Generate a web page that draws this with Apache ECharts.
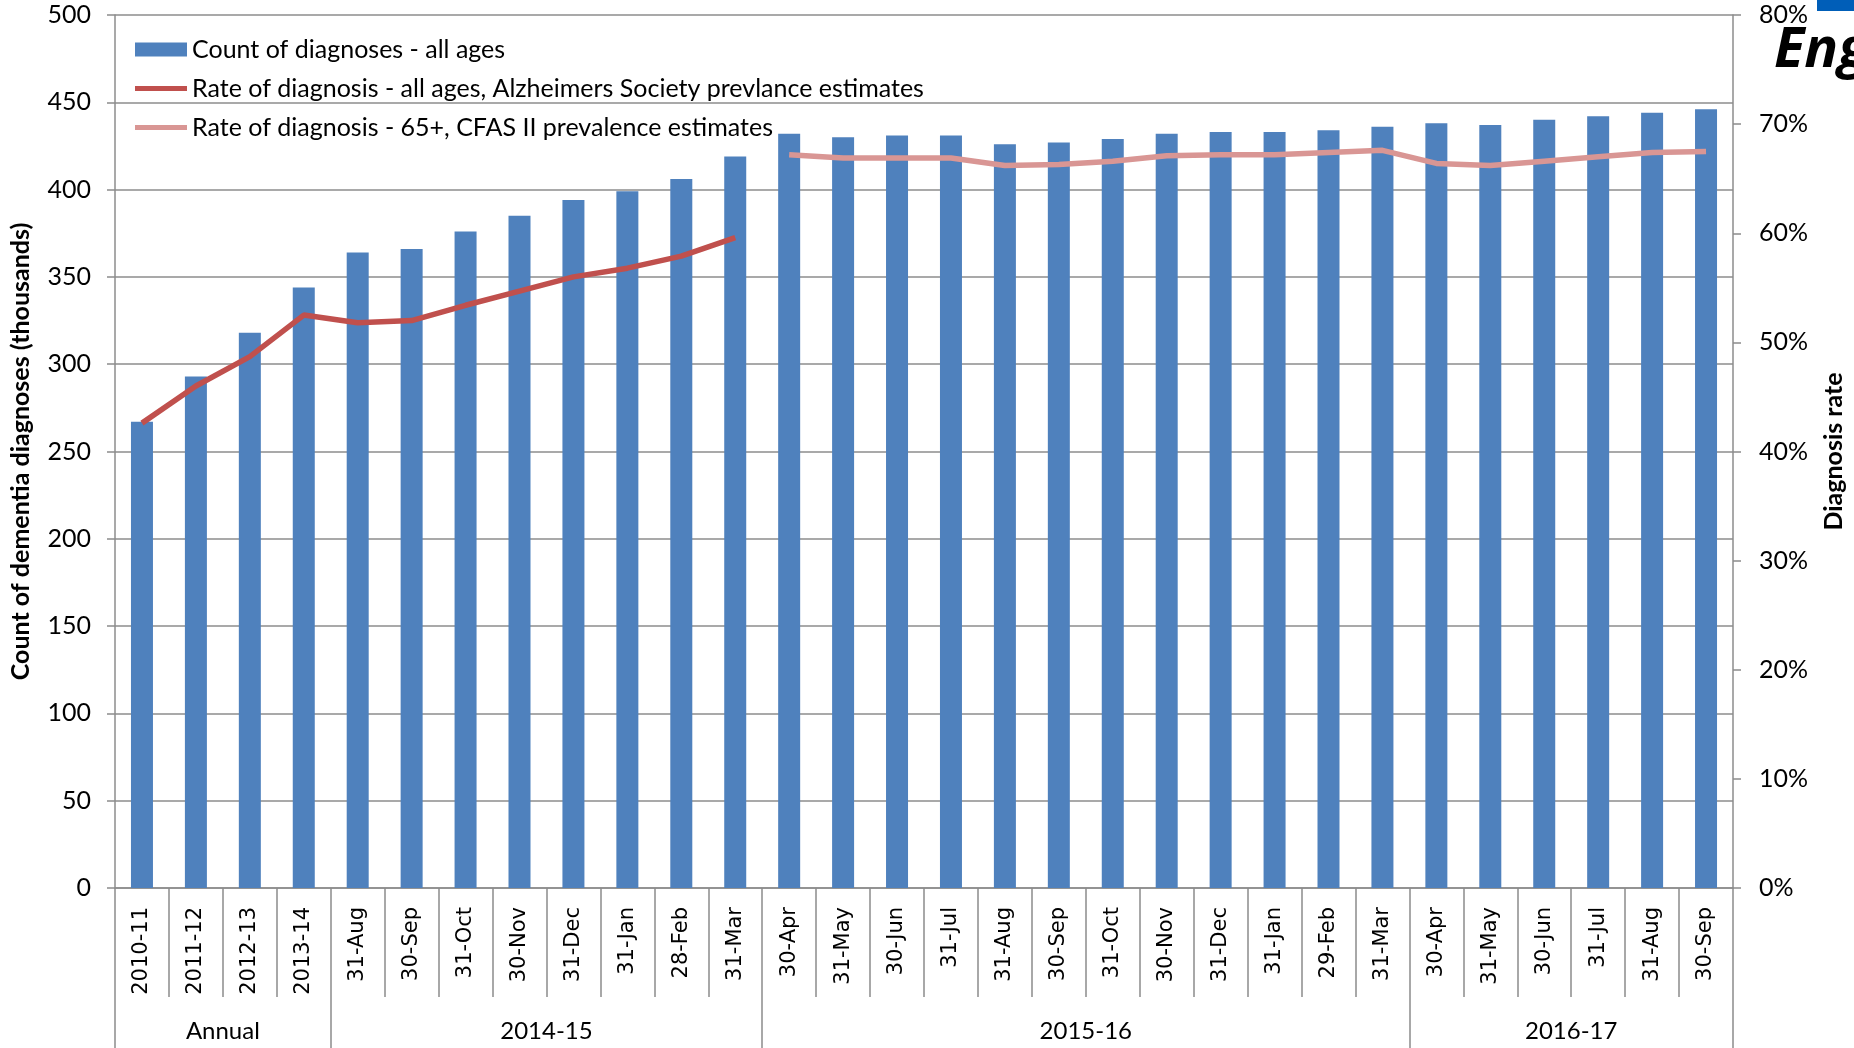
<!DOCTYPE html>
<html><head><meta charset="utf-8">
<script src="https://cdn.jsdelivr.net/npm/echarts@6/dist/echarts.min.js"></script>
<style>html,body{margin:0;padding:0;background:#fff}#c{width:1854px;height:1048px}</style>
</head><body><div id="c"></div>
<script>
const categories = ['2010-11','2011-12','2012-13','2013-14',
  '31-Aug','30-Sep','31-Oct','30-Nov','31-Dec','31-Jan','28-Feb','31-Mar',
  '30-Apr','31-May','30-Jun','31-Jul','31-Aug','30-Sep','31-Oct','30-Nov','31-Dec','31-Jan','29-Feb','31-Mar',
  '30-Apr','31-May','30-Jun','31-Jul','31-Aug','30-Sep'];
const groupNames = ['Annual','2014-15','2015-16','2016-17'];
const groupSizes = [4, 8, 12, 6];
const countDiagnoses = [267,293,318,344,364,366,376,385,394,399,406,419,
  432,430,431,431,426,427,429,432,433,433,434,436,438,437,440,442,444,446];
const rateAlzSoc = [0.426,0.460,0.487,0.525,0.518,0.520,0.534,0.547,0.560,0.568,0.579,0.596,
  null,null,null,null,null,null,null,null,null,null,null,null,null,null,null,null,null,null];
const rateCfas = [null,null,null,null,null,null,null,null,null,null,null,null,
  0.672,0.669,0.669,0.669,0.662,0.663,0.666,0.671,0.672,0.672,0.674,0.676,
  0.664,0.662,0.666,0.670,0.674,0.675];
const leftTicks = {min:0, max:500, interval:50};
const rightTicks = {min:0, max:0.8, interval:0.1};
const seriesNames = ['Count of diagnoses - all ages',
  'Rate of diagnosis - all ages, Alzheimers Society prevlance estimates',
  'Rate of diagnosis - 65+, CFAS II prevalence estimates'];

// group boundaries and centres derived from group sizes
const bounds = [0]; const centres = [];
groupSizes.forEach((n,i)=>{ centres.push(bounds[i] + n/2); bounds.push(bounds[i] + n); });

const gray = '#8c8c8c';
const lineIcon = 'path://M0,0 L52,0 L52,5 L0,5 Z';
const chart = echarts.init(document.getElementById('c'));
chart.setOption({
  animation:false,
  backgroundColor:'#fff',
  textStyle:{fontFamily:'Lato'},
  grid:{left:115, right:118, top:15, bottom:160, containLabel:false},
  legend:{
    orient:'vertical', left:130, top:32, itemWidth:52, itemHeight:14, itemGap:14,
    symbolKeepAspect:true,
    textStyle:{fontFamily:'Lato', fontSize:25, color:'#000'},
    data:[
      {name:seriesNames[0], icon:'rect'},
      {name:seriesNames[1], icon:lineIcon},
      {name:seriesNames[2], icon:lineIcon}
    ]
  },
  xAxis:[{
    type:'category', data:categories, boundaryGap:true,
    axisLine:{lineStyle:{color:gray, width:1.5}},
    axisTick:{show:true, interval:0, length:109, lineStyle:{color:gray, width:1.5}},
    axisLabel:{interval:0, rotate:90, margin:19, fontFamily:'DejaVu Sans', fontSize:21, color:'#000'},
    splitLine:{show:false}
  },{
    type:'value', min:0, max:categories.length, position:'bottom', gridIndex:0,
    axisLine:{show:false},
    axisTick:{show:true, customValues:bounds, length:160, lineStyle:{color:gray, width:1.5}},
    axisLabel:{customValues:centres, margin:131, fontFamily:'Lato', fontSize:24, color:'#000',
      formatter:(v)=>{ const i = centres.indexOf(v); return i>=0 ? groupNames[i] : ''; }},
    splitLine:{show:false}
  }],
  yAxis:[{
    type:'value', min:leftTicks.min, max:leftTicks.max, interval:leftTicks.interval,
    name:'Count of dementia diagnoses (thousands)', nameLocation:'middle', nameGap:82,
    nameTextStyle:{fontFamily:'Lato', fontWeight:'bold', fontSize:25, color:'#000'},
    axisLine:{show:true, lineStyle:{color:gray, width:1.5}},
    axisTick:{show:true, length:8, lineStyle:{color:gray, width:1.5}},
    axisLabel:{fontFamily:'Lato', fontSize:25, color:'#000', margin:24},
    splitLine:{show:true, lineStyle:{color:gray, width:1.5}}
  },{
    type:'value', min:rightTicks.min, max:rightTicks.max, interval:rightTicks.interval, position:'right',
    name:'Diagnosis rate', nameLocation:'middle', nameGap:88,
    nameTextStyle:{fontFamily:'Lato', fontWeight:'bold', fontSize:25, color:'#000'},
    axisLine:{show:true, lineStyle:{color:gray, width:1.5}},
    axisTick:{show:true, length:8, lineStyle:{color:gray, width:1.5}},
    axisLabel:{fontFamily:'Lato', fontSize:25, color:'#000', margin:26,
      formatter:(v)=>Math.round(v*100)+'%'},
    splitLine:{show:false}
  }],
  series:[{
    name:seriesNames[0], type:'bar', data:countDiagnoses, barWidth:22,
    itemStyle:{color:'#4F81BD'}
  },{
    name:seriesNames[1], type:'line', yAxisIndex:1,
    data:rateAlzSoc, symbol:'none', connectNulls:false,
    lineStyle:{color:'#C0504D', width:5.5}, itemStyle:{color:'#C0504D'}
  },{
    name:seriesNames[2], type:'line', yAxisIndex:1,
    data:rateCfas, symbol:'none', connectNulls:false,
    lineStyle:{color:'#D99694', width:5.5}, itemStyle:{color:'#D99694'}
  }],
  graphic:[
    {type:'rect', left:1817, top:0, shape:{width:40, height:11}, style:{fill:'#005EB8'}},
    {type:'text', left:1774, top:23, style:{text:'Eng', font:'italic bold 56px "Open Sans"', fill:'#000'}}
  ]
});
</script></body></html>
